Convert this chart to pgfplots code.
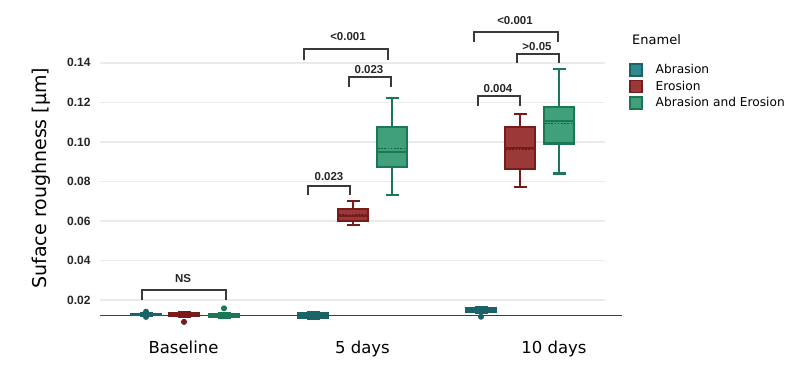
\documentclass[border=0pt]{standalone}
\usepackage{fontspec}
\usepackage{pgfplots}
\pgfplotsset{compat=1.18}
\usepgfplotslibrary{statistics}
\newfontfamily\dejavu{DejaVu Sans}
\newfontfamily\libsans{Liberation Sans}

\definecolor{abrD}{HTML}{1A6468}
\definecolor{abrF}{HTML}{2F8A8F}
\definecolor{eroD}{HTML}{7A1B1B}
\definecolor{eroF}{HTML}{9B3838}
\definecolor{aeD}{HTML}{1B7754}
\definecolor{aeF}{HTML}{41A07C}
\definecolor{brk}{HTML}{3A3A3A}

\newcommand\pval[1]{{\libsans\bfseries\fontsize{11.5bp}{13bp}\selectfont #1}}

\pgfplotsset{
  abr/.style={draw=abrD, fill=abrF, line width=2.1bp, mark=*, mark size=2.5bp, mark options={draw=abrD, fill=abrD, line width=1bp}, forget plot},
  ero/.style={draw=eroD, fill=eroF, line width=2.1bp, mark=*, mark size=2.5bp, mark options={draw=eroD, fill=eroD, line width=1bp}, forget plot},
  ae/.style={draw=aeD, fill=aeF, line width=2.1bp, mark=*, mark size=2.5bp, mark options={draw=aeD, fill=aeD, line width=1bp}, forget plot},
  meanline/.style={line width=1.5bp, dash pattern=on 1.6bp off 1.6bp, forget plot},
}

\begin{document}
\begin{tikzpicture}
\path (0,0) rectangle (793bp,371bp);
\begin{axis}[
  at={(100bp,55.7bp)}, anchor=south west,
  scale only axis, width=505bp, height=315.3bp,
  xmin=100, xmax=605, ymin=0.012263, ymax=0.17171,
  clip=false,
  axis line style={draw=none},
  major tick length=0pt,
  scaled y ticks=false,
  ymajorgrids, grid style={line width=1.6bp, black!8},
  ytick={0.02,0.04,0.06,0.08,0.10,0.12,0.14},
  yticklabels={0.02,0.04,0.06,0.08,0.10,0.12,0.14},
  yticklabel style={font=\libsans\bfseries\fontsize{12bp}{14bp}\selectfont, text=black!85, xshift=-6bp},
  xtick={183.5,362.5,554},
  xticklabels={Baseline,5 days,10 days},
  xticklabel style={font=\dejavu\fontsize{16.5bp}{19bp}\selectfont, anchor=base, yshift=-38bp},
  ylabel={Suface roughness [µm]},
  every axis y label/.style={at={(rel axis cs:-0.1168,0.4355)}, rotate=90, anchor=center, font=\dejavu\fontsize{19bp}{22bp}\selectfont},
  boxplot/draw direction=y,
  legend image code/.code={\draw[#1] (0bp,-6bp) rectangle (12bp,6bp);},
  legend style={at={(rel axis cs:1.0475,0.80)}, anchor=north west, draw=none, fill=none,
    inner sep=0pt, row sep=3bp, column sep=12bp,
    nodes={inner sep=1bp}, font=\dejavu\fontsize{12.2bp}{14bp}\selectfont},
  legend cell align=left,
]
% legend entries
\addlegendimage{draw=abrD, fill=abrF, line width=1.5bp}
\addlegendentry{Abrasion}
\addlegendimage{draw=eroD, fill=eroF, line width=1.5bp}
\addlegendentry{Erosion}
\addlegendimage{draw=aeD, fill=aeF, line width=1.5bp}
\addlegendentry{Abrasion and Erosion}

% baseline of the plot
\draw[black!75, line width=1.6bp] (axis cs:100,0.012263) -- (axis cs:622,0.012263);

% ---- Baseline ----
\addplot[abr, boxplot prepared={lower whisker=0.0122, lower quartile=0.0124, median=0.0127,
  upper quartile=0.0131, upper whisker=0.0133, draw position=146, box extend=30, whisker extend=13}]
  table[row sep=\\, y index=0] {data\\ 0.0141\\ 0.0115\\};
\addplot[ero, boxplot prepared={lower whisker=0.0115, lower quartile=0.0121, median=0.0128,
  upper quartile=0.0134, upper whisker=0.0141, draw position=184, box extend=30, whisker extend=13}]
  table[row sep=\\, y index=0] {data\\ 0.0090\\};
\addplot[ae, boxplot prepared={lower whisker=0.0110, lower quartile=0.0116, median=0.0121,
  upper quartile=0.0129, upper whisker=0.0133, draw position=224, box extend=30, whisker extend=13}]
  table[row sep=\\, y index=0] {data\\ 0.0158\\};

% ---- 5 days ----
\addplot[abr, boxplot prepared={lower whisker=0.0105, lower quartile=0.0112, median=0.0124,
  upper quartile=0.0133, upper whisker=0.0139, draw position=313, box extend=30, whisker extend=13}]
  coordinates {};
\addplot[ero, boxplot prepared={lower whisker=0.0578, lower quartile=0.0600, median=0.0625,
  upper quartile=0.0659, upper whisker=0.0700, draw position=353, box extend=30, whisker extend=13}]
  coordinates {};
\addplot[eroD!80!black, meanline] coordinates {(339,0.0632) (367,0.0632)};
\addplot[ae, boxplot prepared={lower whisker=0.0730, lower quartile=0.0871, median=0.0950,
  upper quartile=0.1075, upper whisker=0.1220, draw position=392, box extend=30, whisker extend=13}]
  coordinates {};
\addplot[aeD!80!black, meanline] coordinates {(378,0.0967) (406,0.0967)};

% ---- 10 days ----
\addplot[abr, boxplot prepared={lower whisker=0.0135, lower quartile=0.0141, median=0.0152,
  upper quartile=0.0160, upper whisker=0.0166, draw position=481, box extend=30, whisker extend=13}]
  table[row sep=\\, y index=0] {data\\ 0.0116\\};
\addplot[ero, boxplot prepared={lower whisker=0.0770, lower quartile=0.0861, median=0.0970,
  upper quartile=0.1075, upper whisker=0.1139, draw position=520, box extend=30, whisker extend=13}]
  coordinates {};
\addplot[eroD!80!black, meanline] coordinates {(506,0.0962) (534,0.0962)};
\addplot[ae, boxplot prepared={lower whisker=0.0840, lower quartile=0.0992, median=0.1107,
  upper quartile=0.1178, upper whisker=0.1368, draw position=559, box extend=30, whisker extend=13}]
  coordinates {};
\addplot[aeD!80!black, meanline] coordinates {(545,0.1094) (573,0.1094)};

% ---- significance brackets ----
\begin{scope}[brk, line width=1.6bp]
\draw (axis cs:142,0.0200) |- (axis cs:226,0.02506) -- (axis cs:226,0.0200);
\draw (axis cs:308,0.0731) |- (axis cs:350,0.07765) -- (axis cs:350,0.0731);
\draw (axis cs:349,0.12771) |- (axis cs:391,0.13277) -- (axis cs:391,0.12771);
\draw (axis cs:304,0.14137) |- (axis cs:388,0.14693) -- (axis cs:388,0.14137);
\draw (axis cs:478,0.1181) |- (axis cs:520,0.12316) -- (axis cs:520,0.1181);
\draw (axis cs:517,0.13985) |- (axis cs:559,0.1444) -- (axis cs:559,0.13985);
\draw (axis cs:474,0.15047) |- (axis cs:558,0.15553) -- (axis cs:558,0.15047);
\end{scope}
\node[text=black!85] at (axis cs:183,0.03113) {\pval{NS}};
\node[text=black!85] at (axis cs:329,0.08271) {\pval{0.023}};
\node[text=black!85] at (axis cs:369,0.13681) {\pval{0.023}};
\node[text=black!85] at (axis cs:348,0.1535) {\pval{<0.001}};
\node[text=black!85] at (axis cs:498,0.12721) {\pval{0.004}};
\node[text=black!85] at (axis cs:537,0.14844) {\pval{>0.05}};
\node[text=black!85] at (axis cs:515,0.16159) {\pval{<0.001}};

% legend heading
\node[anchor=west, inner sep=0pt, font=\dejavu\fontsize{13bp}{15bp}\selectfont] at (axis cs:632,0.15148) {Enamel};
\end{axis}
\end{tikzpicture}
\end{document}
